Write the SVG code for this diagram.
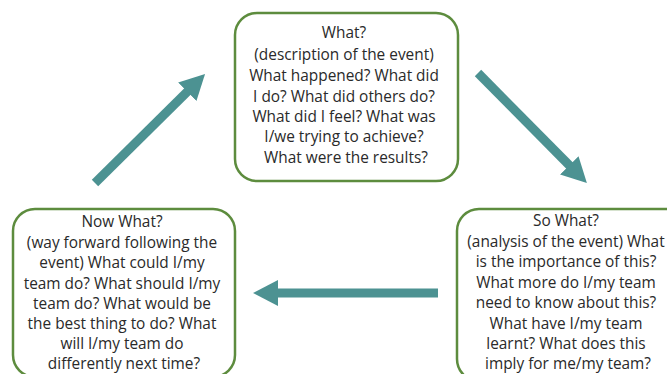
<svg xmlns="http://www.w3.org/2000/svg" width="667" height="374" viewBox="0 0 667 374">
  <style>
    .box { fill: #ffffff; stroke: #5d8c3e; stroke-width: 2.5; }
    .txt { font-family: "Open Sans", "Liberation Sans", sans-serif; font-size: 15.4px; fill: #2a2a2a; text-anchor: middle; }
    .arrow { stroke: #4c9292; stroke-width: 9; fill: none; }
  </style>
  <defs>
    <marker id="head" viewBox="0 -13 25 26" refX="1" refY="0" markerWidth="25" markerHeight="26" markerUnits="userSpaceOnUse" orient="auto">
      <path d="M0,-13 L25,0 L0,13 Z" fill="#4c9292"/>
    </marker>
  </defs>
  <rect width="667" height="374" fill="#ffffff"/>

  <g id="connectors">
    <line class="arrow" x1="95" y1="183" x2="188" y2="91" marker-end="url(#head)"/>
    <line class="arrow" x1="478" y1="73" x2="570" y2="166" marker-end="url(#head)"/>
    <line class="arrow" x1="438" y1="293" x2="277" y2="293" marker-end="url(#head)"/>
  </g>

  <g id="what">
    <rect class="box" x="235" y="13" width="223" height="168" rx="22"/>
    <text class="txt">
      <tspan x="346" y="38">What?</tspan>
      <tspan x="346" y="60">(description of the event)</tspan>
      <tspan x="346" y="81">What happened? What did</tspan>
      <tspan x="346" y="101.5">I do? What did others do?</tspan>
      <tspan x="346" y="122">What did I feel? What was</tspan>
      <tspan x="346" y="142">I/we trying to achieve?</tspan>
      <tspan x="346" y="162.5">What were the results?</tspan>
    </text>
  </g>

  <g id="so-what">
    <rect class="box" x="457" y="209" width="230" height="172" rx="22"/>
    <text class="txt">
      <tspan x="568" y="226">So What?</tspan>
      <tspan x="568" y="247">(analysis of the event) What</tspan>
      <tspan x="568" y="267">is the importance of this?</tspan>
      <tspan x="568" y="287.5">What more do I/my team</tspan>
      <tspan x="568" y="308">need to know about this?</tspan>
      <tspan x="568" y="328.5">What have I/my team</tspan>
      <tspan x="568" y="349">learnt? What does this</tspan>
      <tspan x="568" y="369">imply for me/my team?</tspan>
    </text>
  </g>

  <g id="now-what">
    <rect class="box" x="13" y="209" width="222" height="168" rx="22"/>
    <text class="txt">
      <tspan x="124" y="227">Now What?</tspan>
      <tspan x="124" y="247.5">(way forward following the</tspan>
      <tspan x="124" y="268">event) What could I/my</tspan>
      <tspan x="124" y="288.5">team do? What should I/my</tspan>
      <tspan x="124" y="309">team do? What would be</tspan>
      <tspan x="124" y="329">the best thing to do? What</tspan>
      <tspan x="124" y="349">will I/my team do</tspan>
      <tspan x="124" y="369">differently next time?</tspan>
    </text>
  </g>
</svg>
